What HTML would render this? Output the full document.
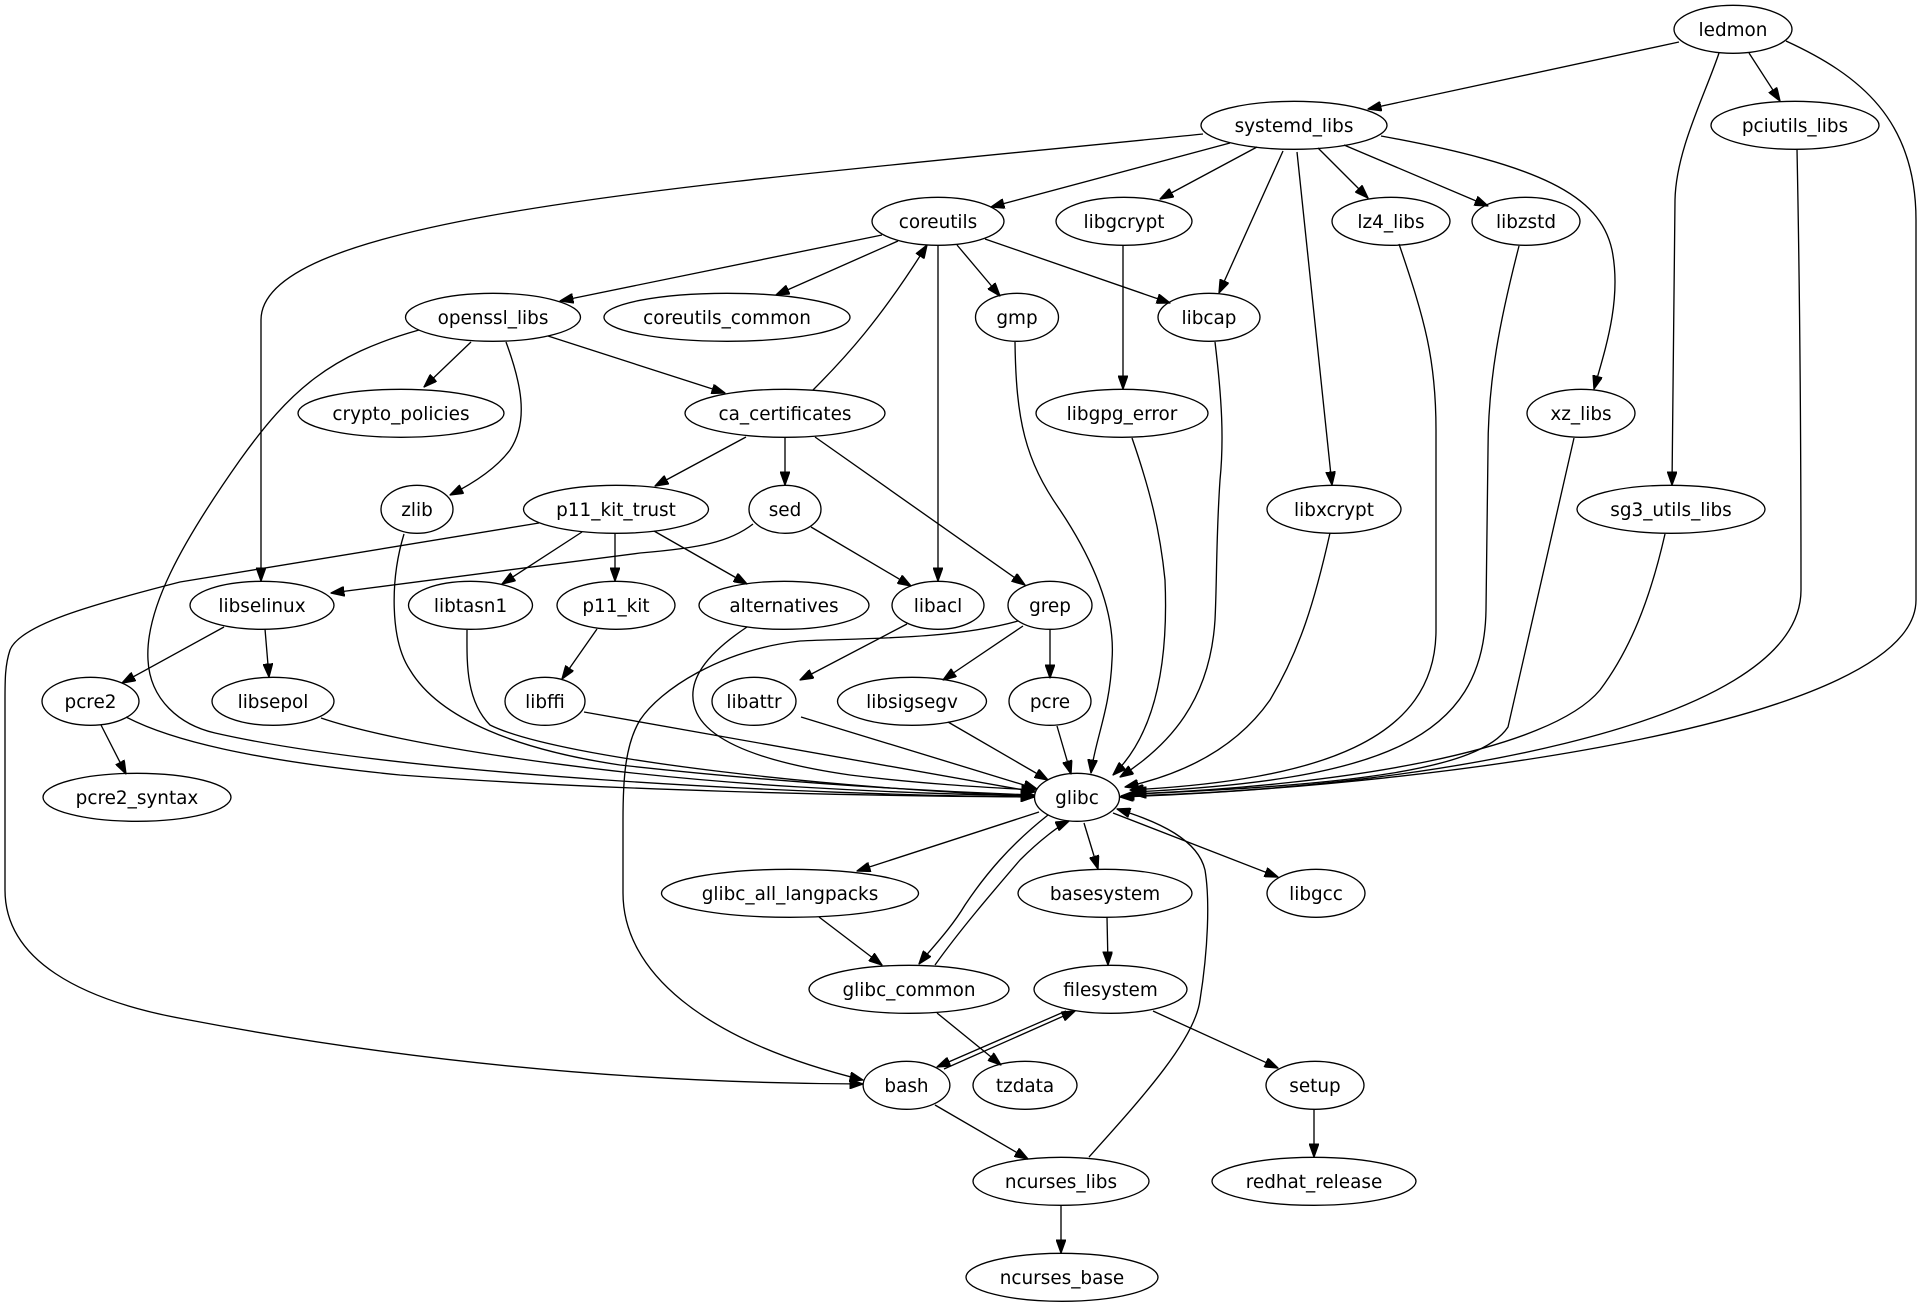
<!DOCTYPE html>
<html><head><meta charset="utf-8">
<style>
html,body{margin:0;padding:0;background:#fff;}
svg{display:block;}
text{font-family:"DejaVu Sans","Liberation Sans",sans-serif;font-size:18.4px;text-anchor:middle;fill:#000;}
ellipse{fill:none;stroke:#000;stroke-width:1.33;}
path{fill:none;stroke:#000;stroke-width:1.33;}
</style></head>
<body>
<svg width="1923" height="1307" viewBox="0 0 1923 1307" xmlns="http://www.w3.org/2000/svg">
<defs>
<marker id="a" markerUnits="userSpaceOnUse" markerWidth="14" markerHeight="10" viewBox="0 0 14 10" refX="13.5" refY="5" orient="auto">
<path d="M0,0 L14,5 L0,10 z" style="fill:#000;stroke:#000;stroke-width:1"/>
</marker>
</defs>
<rect width="1923" height="1307" fill="#fff"/>
<g marker-end="url(#a)">
<path d="M1679,42 L1368,109"/>
<path d="M1749,53 L1780,101"/>
<path d="M1719,53 C1705,95 1676,150 1675,200 L1672,485"/>
<path d="M1786,41 C1860,75 1916,120 1916,220 L1916,600 C1916,720 1450,785 1120,797"/>
<path d="M1203,134 C700,185 261,215 261,320 L261,581"/>
<path d="M1230,143 L991,207"/>
<path d="M1257,147 L1160,199"/>
<path d="M1283,151 L1219,293"/>
<path d="M1297,152 L1332,485"/>
<path d="M1318,148 L1368,198"/>
<path d="M1344,145 L1488,206"/>
<path d="M1381,136 C1540,165 1600,195 1612,250 C1622,300 1605,350 1594,389"/>
<path d="M1797,149 C1800,300 1801,450 1801,590 C1801,730 1400,790 1121,796"/>
<path d="M1665,534 C1650,600 1630,650 1600,690 C1550,750 1350,785 1133,794"/>
<path d="M1574,438 L1508,727 C1480,770 1350,785 1133,794"/>
<path d="M1519,246 C1500,320 1488,380 1488,450 L1486,610 C1484,740 1380,780 1133,792"/>
<path d="M1399,244 C1425,320 1436,360 1436,430 L1436,630 C1436,740 1320,780 1130,790"/>
<path d="M1330,533 C1315,600 1300,650 1270,700 C1235,750 1180,775 1125,787"/>
<path d="M1215,342 C1222,400 1224,440 1220,480 C1216,540 1217,580 1215,620 C1210,700 1170,745 1120,777"/>
<path d="M1132,438 C1150,490 1160,530 1165,580 C1168,650 1160,730 1113,775"/>
<path d="M1015,342 C1016,420 1025,460 1060,510 C1100,570 1115,620 1112,660 C1110,710 1095,740 1091,773"/>
<path d="M1123,245 L1123,389"/>
<path d="M882,235 L560,301"/>
<path d="M898,241 L776,295"/>
<path d="M957,245 L1000,296"/>
<path d="M985,239 L1170,303"/>
<path d="M938,245 L938,581"/>
<path d="M813,390 C845,358 880,320 927,245"/>
<path d="M471,342 L424,387"/>
<path d="M548,336 L725,393"/>
<path d="M506,342 C520,380 530,420 510,450 C495,470 470,485 450,495"/>
<path d="M419,330 C330,355 290,390 240,460 C180,545 145,610 148,660 C150,700 180,725 215,733 C400,775 800,795 1034,797"/>
<path d="M746,437 L655,486"/>
<path d="M785,438 L785,485"/>
<path d="M815,437 L1025,585"/>
<path d="M582,532 L502,584"/>
<path d="M615,534 L615,581"/>
<path d="M654,531 L747,584"/>
<path d="M539,523 L180,582 C90,605 20,625 10,650 C5,665 5,680 5,700 L5,890 C5,960 80,1000 184,1019 C320,1045 560,1083 863,1084"/>
<path d="M753,524 C730,542 700,548 640,553 L331,593"/>
<path d="M811,527 L911,586"/>
<path d="M224,627 L122,683"/>
<path d="M265,629 L269,677"/>
<path d="M467,630 C467,660 465,700 490,725 C560,760 850,790 1034,796"/>
<path d="M597,629 L562,679"/>
<path d="M747,627 C705,655 688,680 694,705 C702,740 760,762 850,775 C930,785 1000,788 1035,790"/>
<path d="M907,624 L800,680"/>
<path d="M1018,621 C950,640 860,638 800,641 C720,650 660,690 640,720 C625,745 623,780 623,820 L623,893 C623,970 700,1040 863,1080"/>
<path d="M1023,626 L943,680"/>
<path d="M1050,630 L1050,678"/>
<path d="M101,725 L126,774"/>
<path d="M126,717 C170,740 250,760 400,775 C600,790 850,796 1034,797"/>
<path d="M321,718 C400,745 600,775 800,787 C900,793 980,795 1034,796"/>
<path d="M404,534 C390,580 390,640 410,670 C440,720 520,750 620,765 C800,785 950,792 1034,795"/>
<path d="M584,712 L1035,792"/>
<path d="M801,717 L1037,789"/>
<path d="M948,722 L1048,780"/>
<path d="M1057,726 L1071,774"/>
<path d="M1039,812 L857,871"/>
<path d="M1048,815 C1010,845 985,875 965,905 C950,930 930,950 919,964"/>
<path d="M935,965 C960,930 990,895 1020,860 C1040,840 1060,825 1069,821"/>
<path d="M1084,823 L1098,869"/>
<path d="M1113,813 L1278,877"/>
<path d="M1089,1157 C1140,1100 1195,1040 1200,1000 C1208,950 1210,900 1205,870 C1198,840 1160,822 1117,809"/>
<path d="M819,917 L882,965"/>
<path d="M1107,917 L1108,965"/>
<path d="M937,1013 L1001,1065"/>
<path d="M1066,1011 L937,1067"/>
<path d="M944,1069 L1075,1011"/>
<path d="M1153,1011 L1278,1068"/>
<path d="M935,1105 L1028,1159"/>
<path d="M1314,1109 L1314,1157"/>
<path d="M1061,1205 L1061,1253"/>
</g>
<g>
<ellipse cx="1733" cy="29.3" rx="59" ry="24"/><text x="1733" y="35.8">ledmon</text>
<ellipse cx="1294" cy="125.3" rx="93" ry="24"/><text x="1294" y="131.8">systemd_libs</text>
<ellipse cx="1795" cy="125.3" rx="84" ry="24"/><text x="1795" y="131.8">pciutils_libs</text>
<ellipse cx="938" cy="221.3" rx="66" ry="24"/><text x="938" y="227.8">coreutils</text>
<ellipse cx="1124" cy="221.3" rx="68" ry="24"/><text x="1124" y="227.8">libgcrypt</text>
<ellipse cx="1391" cy="221.3" rx="59" ry="24"/><text x="1391" y="227.8">lz4_libs</text>
<ellipse cx="1526" cy="221.3" rx="54" ry="24"/><text x="1526" y="227.8">libzstd</text>
<ellipse cx="493" cy="317.3" rx="87.5" ry="24"/><text x="493" y="323.8">openssl_libs</text>
<ellipse cx="727" cy="317.3" rx="123" ry="24"/><text x="727" y="323.8">coreutils_common</text>
<ellipse cx="1017" cy="317.3" rx="41.5" ry="24"/><text x="1017" y="323.8">gmp</text>
<ellipse cx="1209" cy="317.3" rx="51" ry="24"/><text x="1209" y="323.8">libcap</text>
<ellipse cx="401" cy="413.3" rx="103" ry="24"/><text x="401" y="419.8">crypto_policies</text>
<ellipse cx="785" cy="413.3" rx="100" ry="24"/><text x="785" y="419.8">ca_certificates</text>
<ellipse cx="1122" cy="413.3" rx="86" ry="24"/><text x="1122" y="419.8">libgpg_error</text>
<ellipse cx="1581" cy="413.3" rx="54" ry="24"/><text x="1581" y="419.8">xz_libs</text>
<ellipse cx="417" cy="509.3" rx="36" ry="24"/><text x="417" y="515.8">zlib</text>
<ellipse cx="616" cy="509.3" rx="92.5" ry="24"/><text x="616" y="515.8">p11_kit_trust</text>
<ellipse cx="785" cy="509.3" rx="36" ry="24"/><text x="785" y="515.8">sed</text>
<ellipse cx="1334" cy="509.3" rx="67" ry="24"/><text x="1334" y="515.8">libxcrypt</text>
<ellipse cx="1671" cy="509.3" rx="94" ry="24"/><text x="1671" y="515.8">sg3_utils_libs</text>
<ellipse cx="262" cy="605.3" rx="72" ry="24"/><text x="262" y="611.8">libselinux</text>
<ellipse cx="470.5" cy="605.3" rx="62" ry="24"/><text x="470.5" y="611.8">libtasn1</text>
<ellipse cx="616" cy="605.3" rx="59" ry="24"/><text x="616" y="611.8">p11_kit</text>
<ellipse cx="784" cy="605.3" rx="85" ry="24"/><text x="784" y="611.8">alternatives</text>
<ellipse cx="938" cy="605.3" rx="46" ry="24"/><text x="938" y="611.8">libacl</text>
<ellipse cx="1050" cy="605.3" rx="42" ry="24"/><text x="1050" y="611.8">grep</text>
<ellipse cx="90.5" cy="701.3" rx="48.5" ry="24"/><text x="90.5" y="707.8">pcre2</text>
<ellipse cx="273" cy="701.3" rx="61" ry="24"/><text x="273" y="707.8">libsepol</text>
<ellipse cx="545" cy="701.3" rx="40" ry="24"/><text x="545" y="707.8">libffi</text>
<ellipse cx="754" cy="701.3" rx="42" ry="24"/><text x="754" y="707.8">libattr</text>
<ellipse cx="912" cy="701.3" rx="74.5" ry="24"/><text x="912" y="707.8">libsigsegv</text>
<ellipse cx="1050" cy="701.3" rx="41" ry="24"/><text x="1050" y="707.8">pcre</text>
<ellipse cx="1077" cy="797.3" rx="42.5" ry="24"/><text x="1077" y="803.8">glibc</text>
<ellipse cx="137" cy="797.3" rx="94" ry="24"/><text x="137" y="803.8">pcre2_syntax</text>
<ellipse cx="790" cy="893.3" rx="128.5" ry="24"/><text x="790" y="899.8">glibc_all_langpacks</text>
<ellipse cx="1105" cy="893.3" rx="87" ry="24"/><text x="1105" y="899.8">basesystem</text>
<ellipse cx="1316" cy="893.3" rx="49" ry="24"/><text x="1316" y="899.8">libgcc</text>
<ellipse cx="909" cy="989.3" rx="100" ry="24"/><text x="909" y="995.8">glibc_common</text>
<ellipse cx="1110.5" cy="989.3" rx="76.5" ry="24"/><text x="1110.5" y="995.8">filesystem</text>
<ellipse cx="906.5" cy="1085.3" rx="43.4" ry="24"/><text x="906.5" y="1091.8">bash</text>
<ellipse cx="1025" cy="1085.3" rx="52" ry="24"/><text x="1025" y="1091.8">tzdata</text>
<ellipse cx="1315" cy="1085.3" rx="49" ry="24"/><text x="1315" y="1091.8">setup</text>
<ellipse cx="1061" cy="1181.3" rx="88" ry="24"/><text x="1061" y="1187.8">ncurses_libs</text>
<ellipse cx="1314" cy="1181.3" rx="102" ry="24"/><text x="1314" y="1187.8">redhat_release</text>
<ellipse cx="1062" cy="1277.3" rx="96" ry="24"/><text x="1062" y="1283.8">ncurses_base</text>
</g>
</svg>
</body></html>
